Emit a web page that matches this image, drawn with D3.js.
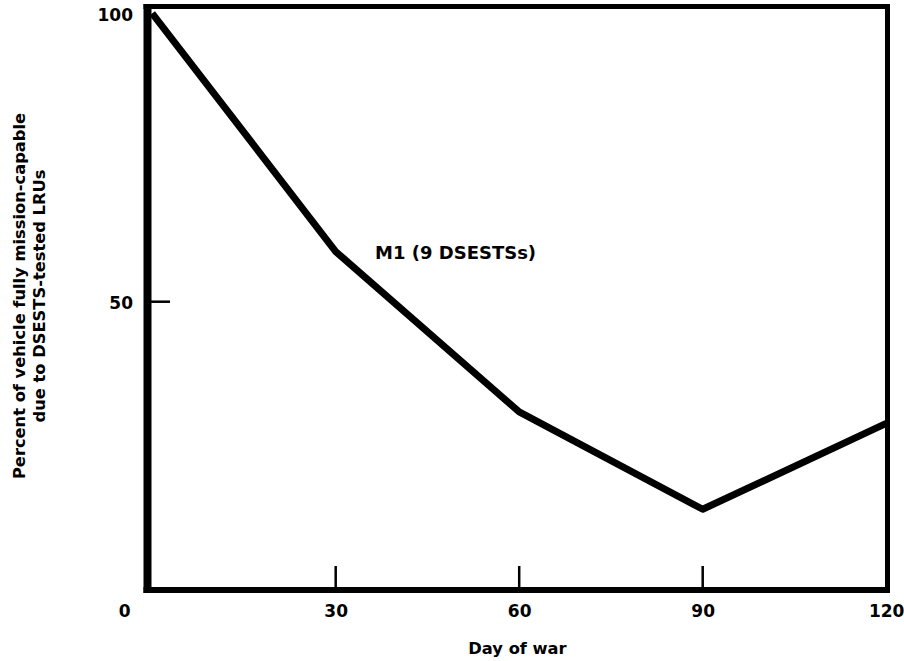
<!DOCTYPE html>
<html>
<head>
<meta charset="utf-8">
<script src="https://cdn.jsdelivr.net/npm/d3@7"></script>
<style>
  html, body { margin: 0; padding: 0; background: #fff; }
  svg text { font-family: "DejaVu Sans", sans-serif; font-weight: bold; fill: #000; }
</style>
</head>
<body>
<svg id="chart" width="904" height="661"></svg>
<script>
// ---- data ----
const days = [0, 30, 60, 90, 120];
const percentCapable = [100, 58.7, 30.9, 14.0, 28.9];
const xTickValues = [0, 30, 60, 90, 120];
const xTickMarks = [30, 60, 90];
const yTickValues = [50, 100];
const yTickMarks = [50];
const seriesLabel = "M1 (9 DSESTSs)";
const xTitle = "Day of war";
const yTitleLines = ["Percent of vehicle fully mission-capable", "due to DSESTS-tested LRUs"];

// ---- layout ----
const svg = d3.select("#chart");
const plotLeft = 152.2, plotRight = 886.2, plotTop = 13.4, plotBottom = 590;
const x = d3.scaleLinear().domain([0, 120]).range([plotLeft, plotRight]);
const y = d3.scaleLinear().domain([0, 100]).range([plotBottom, plotTop]);

// frame
const frame = svg.append("g");
frame.append("line").attr("x1", 147.5).attr("x2", 147.5).attr("y1", 4).attr("y2", 593)
  .attr("stroke", "#000").attr("stroke-width", 8);
frame.append("line").attr("x1", 143.5).attr("x2", 890).attr("y1", 590).attr("y2", 590)
  .attr("stroke", "#000").attr("stroke-width", 6);
frame.append("line").attr("x1", 887.5).attr("x2", 887.5).attr("y1", 4).attr("y2", 593)
  .attr("stroke", "#000").attr("stroke-width", 5);
frame.append("line").attr("x1", 143.5).attr("x2", 890).attr("y1", 6.5).attr("y2", 6.5)
  .attr("stroke", "#000").attr("stroke-width", 5);

// x axis labels
const xAxis = d3.axisBottom(x).tickValues(xTickValues).tickSize(0).tickPadding(0)
  .tickFormat(d3.format("d"));
const gx = svg.append("g").attr("transform", `translate(0,${plotBottom})`).call(xAxis);
gx.select(".domain").remove();
gx.attr("font-family", null).attr("font-size", null);
gx.selectAll("text").attr("y", 27).attr("dy", 0).style("font-size", "17px");
gx.selectAll(".tick").filter(d => d === 0).select("text").attr("dx", -28);

// x tick marks (inward)
svg.append("g").selectAll("line").data(xTickMarks).join("line")
  .attr("x1", d => x(d)).attr("x2", d => x(d))
  .attr("y1", plotBottom).attr("y2", plotBottom - 24)
  .attr("stroke", "#000").attr("stroke-width", 2.5);

// y axis labels
const yAxis = d3.axisLeft(y).tickValues(yTickValues).tickSize(0).tickPadding(0)
  .tickFormat(d3.format("d"));
const gy = svg.append("g").attr("transform", `translate(133,0)`).call(yAxis);
gy.select(".domain").remove();
gy.attr("font-family", null).attr("font-size", null);
gy.selectAll("text").attr("x", 0).attr("dy", "0.38em").style("font-size", "17px");
gy.selectAll(".tick").attr("transform", d => `translate(0,${y(d) + 1})`);

// y tick marks (inward)
svg.append("g").selectAll("line").data(yTickMarks).join("line")
  .attr("x1", 147).attr("x2", 170)
  .attr("y1", d => y(d)).attr("y2", d => y(d))
  .attr("stroke", "#000").attr("stroke-width", 2.5);

// data line
const pts = days.map((d, i) => [d, percentCapable[i]]);
svg.append("path").datum(pts)
  .attr("fill", "none").attr("stroke", "#000").attr("stroke-width", 7)
  .attr("stroke-linejoin", "round")
  .attr("d", d3.line().x(d => x(d[0])).y(d => y(d[1])));

// series label
svg.append("text").attr("x", 375).attr("y", 259).style("font-size", "18px").text(seriesLabel);

// x title
svg.append("text").attr("x", 517.5).attr("y", 654).attr("text-anchor", "middle")
  .style("font-size", "16.3px").text(xTitle);

// y title
const yt = svg.append("text").attr("transform", "translate(25,296) rotate(-90)")
  .attr("text-anchor", "middle").style("font-size", "16.3px");
yTitleLines.forEach((t, i) => {
  yt.append("tspan").attr("x", 0).attr("y", i * 20).text(t);
});
</script>
</body>
</html>
